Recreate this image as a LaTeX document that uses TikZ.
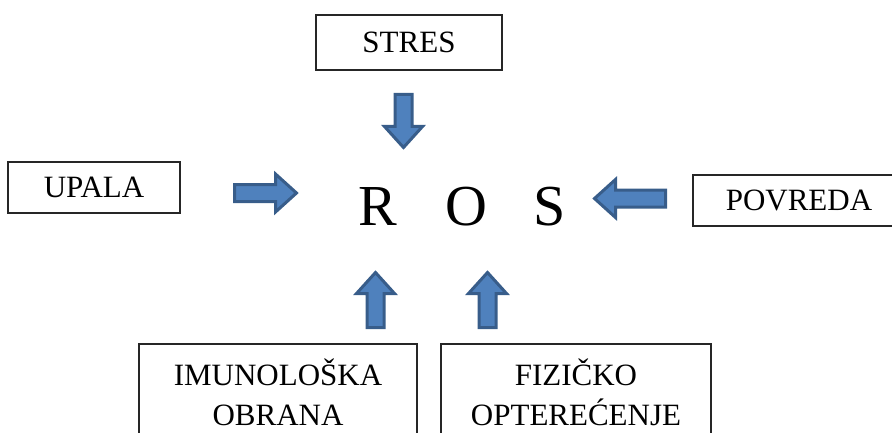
\documentclass[tikz,border=0pt]{standalone}
\usepackage{fontspec}
\setmainfont{Liberation Serif}
\usepackage{tikz}
\usetikzlibrary{positioning}
\definecolor{arrowfill}{HTML}{4F81BD}
\definecolor{arrowline}{HTML}{385D8A}

\begin{document}
\begin{tikzpicture}[x=1pt,y=1pt,
  every node/.style={align=center,font=\fontsize{31}{40}\selectfont},
  box/.style={draw=black!85,line width=1.3pt,inner sep=0pt},
  big/.style={font=\fontsize{58}{60}\selectfont,inner sep=0pt},
  arrowbody/.style={draw=arrowline,fill=arrowfill,line width=3pt,line join=miter},
  pics/blockarrow/.style={code={
    \draw[arrowbody] (0,-8.5) -- ({#1-21},-8.5) -- ({#1-21},-19) -- (#1,0)
      -- ({#1-21},19) -- ({#1-21},8.5) -- (0,8.5) -- cycle;}}]

    \useasboundingbox (0,0) rectangle (892,432);

    \node[box,minimum width=186,minimum height=55](stres) at (409,389.5){STRES};
    \node[box,minimum width=172,minimum height=51](upala) at (94,244.5){UPALA};
    \node[box,minimum width=212,minimum height=51](povreda) at (799,231.5){POVREDA};
    \node[box,minimum width=278,minimum height=96](imuno) at (278,40){IMUNOLOŠKA\\OBRANA};
    \node[box,minimum width=270,minimum height=96](fizicko) at (576,40){FIZIČKO\\OPTEREĆENJE};
    \node[big,anchor=base](ros) at (462,207){R\hspace{48pt}O\hspace{46pt}S};

    \pic[rotate=-90] at (403.5,337.5) {blockarrow=53};
    \pic at (234.5,239) {blockarrow=62};
    \pic[rotate=180] at (665.5,233.5) {blockarrow=71};
    \pic[rotate=90] at (375.5,104.5) {blockarrow=55};
    \pic[rotate=90] at (487.5,104.5) {blockarrow=55};
\end{tikzpicture}
\end{document}
